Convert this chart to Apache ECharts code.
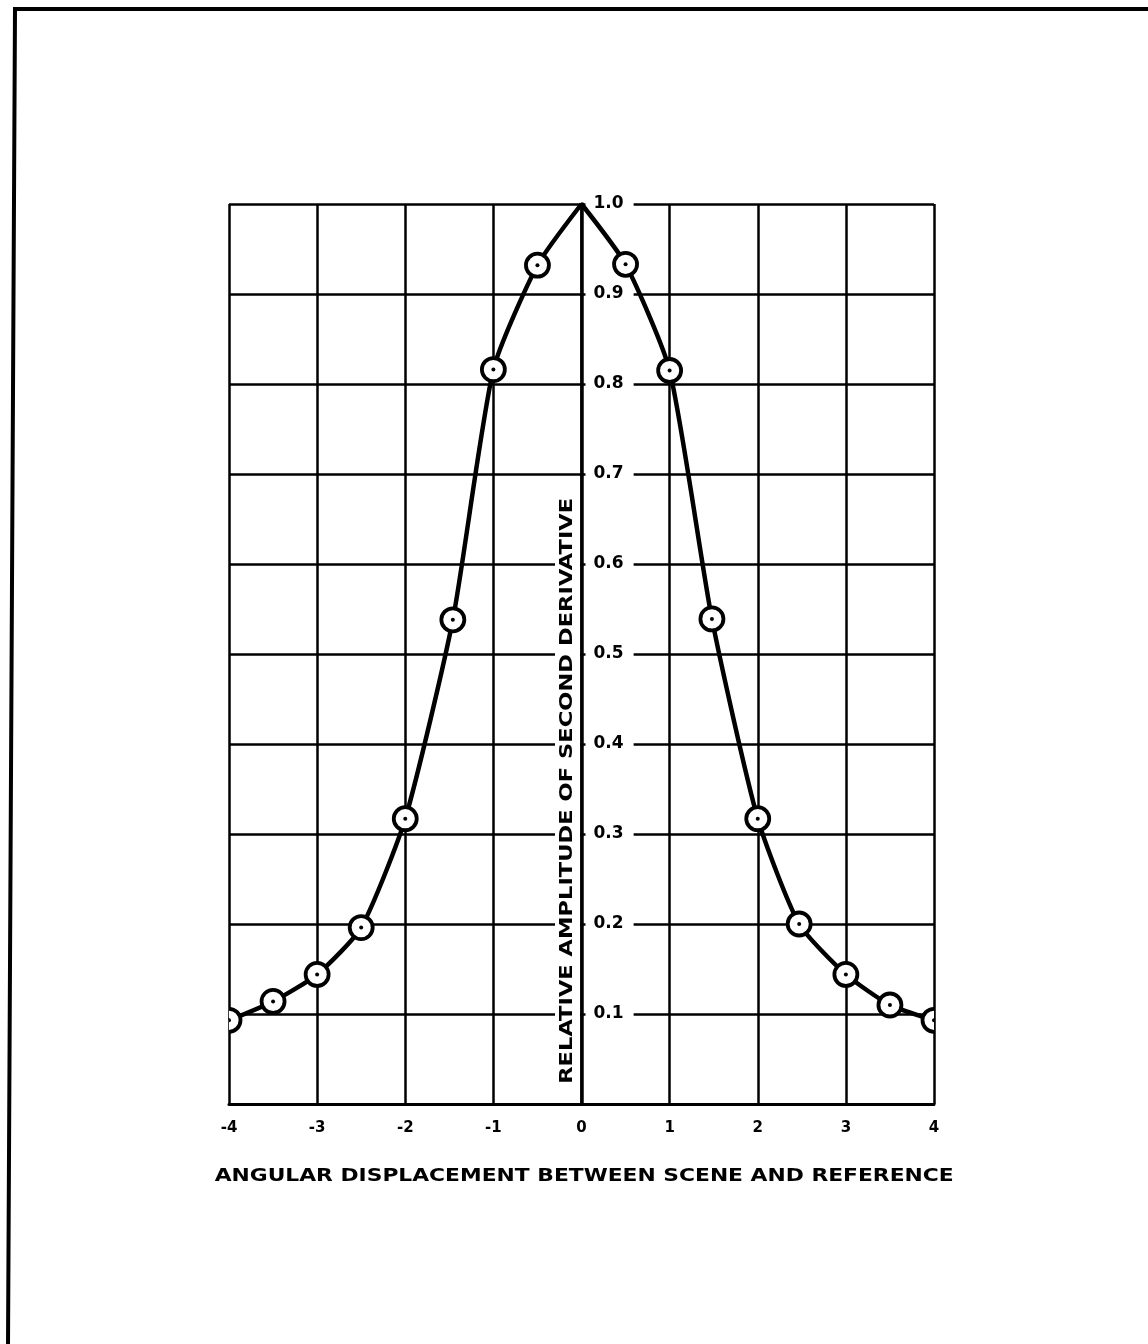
<!DOCTYPE html>
<html>
<head>
<meta charset="utf-8">
<script src="https://cdn.jsdelivr.net/npm/echarts@6/dist/echarts.min.js"></script>
<style>
  html, body { margin: 0; padding: 0; background: #fff; }
  #chart { width: 1148px; height: 1344px; }
</style>
</head>
<body>
<div id="chart"></div>
<script>
// Angular displacement (x) and relative amplitude of the second derivative (y)
const displacement = [-4, -3.5, -3, -2.5, -2, -1.46, -1, -0.5, 0.5, 1, 1.48, 2, 2.47, 3, 3.5, 4];
const amplitude    = [0.093, 0.114, 0.144, 0.196, 0.317, 0.538, 0.816, 0.932, 0.933, 0.815, 0.539, 0.317, 0.2, 0.144, 0.11, 0.093];
// Peak of the curve (no measurement circle drawn there)
const peak = [0, 1.0];

const xTicks = { min: -4, max: 4, interval: 1 };
const yTicks = { min: 0, max: 1.0, interval: 0.1 };

const xTitle = 'ANGULAR DISPLACEMENT BETWEEN SCENE AND REFERENCE';
const yTitle = 'RELATIVE AMPLITUDE OF SECOND DERIVATIVE';

const measured = displacement.map((x, i) => [x, amplitude[i]]);
// The curve comes to a point at the peak, so each side is its own line
const leftBranch = measured.filter(p => p[0] < 0).concat([peak]);
const rightBranch = [peak].concat(measured.filter(p => p[0] > 0));

const FONT = '"DejaVu Sans", "Liberation Sans", sans-serif';
const GRID = { left: 229, right: 214, top: 204, bottom: 240 };
const chartWidth = 1148;

// The value axis sits on the zero line of the displacement axis
const zeroOffset = -(chartWidth - GRID.left - GRID.right) * (0 - xTicks.min) / (xTicks.max - xTicks.min);

const lineSeries = data => ({
  type: 'line',
  data: data,
  smooth: 0.2,
  showSymbol: false,
  lineStyle: { color: '#000', width: 4.5 },
  z: 3
});

const chart = echarts.init(document.getElementById('chart'));
chart.setOption({
  backgroundColor: '#fff',
  animation: false,
  grid: GRID,
  xAxis: {
    type: 'value',
    min: xTicks.min, max: xTicks.max, interval: xTicks.interval,
    axisLine: { show: true, onZero: false, lineStyle: { color: '#000', width: 3 } },
    axisTick: { show: false },
    splitLine: { show: true, lineStyle: { color: '#000', width: 2.5 } },
    axisLabel: { color: '#000', fontFamily: FONT, fontWeight: 'bold', fontSize: 15, margin: 17 }
  },
  yAxis: {
    type: 'value',
    position: 'left',
    offset: zeroOffset,
    min: yTicks.min, max: yTicks.max, interval: yTicks.interval,
    axisLine: { show: true, onZero: false, lineStyle: { color: '#000', width: 3.5 } },
    axisTick: { show: false },
    splitLine: { show: true, lineStyle: { color: '#000', width: 2.5 } },
    axisLabel: {
      inside: true, showMinLabel: false, margin: 4,
      color: '#000', fontFamily: FONT, fontWeight: 'bold', fontSize: 17,
      backgroundColor: '#fff', padding: [3, 10, 3, 8],
      formatter: v => v.toFixed(1)
    }
  },
  series: [
    lineSeries(leftBranch),
    lineSeries(rightBranch),
    {
      type: 'custom',
      data: measured,
      clip: true,
      z: 4,
      renderItem: (params, api) => {
        const p = api.coord([api.value(0), api.value(1)]);
        return {
          type: 'group',
          children: [
            { type: 'circle', shape: { cx: p[0], cy: p[1], r: 11.5 },
              style: { fill: '#fff', stroke: '#000', lineWidth: 3.8 } },
            { type: 'circle', shape: { cx: p[0], cy: p[1], r: 2 },
              style: { fill: '#000' } }
          ]
        };
      }
    }
  ]
});

// Titles: stretched to the spaced-out lettering of the drawing
const ctx = document.createElement('canvas').getContext('2d');
function widthOf(text, font) { ctx.font = font; return ctx.measureText(text).width; }

const xFont = 'bold 17px "DejaVu Sans"';
const yFont = 'bold 18px "DejaVu Sans"';
const xScale = 739 / widthOf(xTitle, xFont);
const yScale = 586 / widthOf(yTitle, yFont);

const xMid = chart.convertToPixel({ gridIndex: 0 }, [0.03, 0]);
const yMid = chart.convertToPixel({ gridIndex: 0 }, [0, 0.348]);

chart.setOption({
  graphic: [
    {
      type: 'polyline',
      shape: { points: [[1148, 9], [15, 9], [8, 1344]] },
      style: { stroke: '#000', lineWidth: 4, fill: null },
      silent: true
    },
    {
      type: 'text',
      x: xMid[0], y: 1177,
      scaleX: xScale,
      style: { text: xTitle, font: xFont, fill: '#000', align: 'center', verticalAlign: 'middle' },
      silent: true
    },
    {
      type: 'text',
      x: yMid[0] - 14, y: yMid[1],
      rotation: Math.PI / 2,
      scaleX: yScale,
      z: 10,
      style: { text: yTitle, font: yFont, fill: '#000', align: 'center', verticalAlign: 'middle',
               backgroundColor: '#fff', padding: [3, 2, 4, 2] },
      silent: true
    }
  ]
});
</script>
</body>
</html>
